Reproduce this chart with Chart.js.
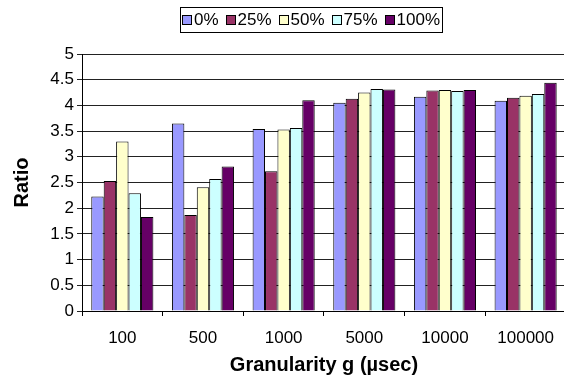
<!DOCTYPE html>
<html>
<head>
<meta charset="utf-8">
<script src="https://cdn.jsdelivr.net/npm/chart.js@4.4.1/dist/chart.umd.min.js"></script>
<style>
  html, body { margin: 0; padding: 0; background: #fff; overflow: hidden; }
  #wrap { width: 566px; height: 387px; }
</style>
</head>
<body>
<div id="wrap"><canvas id="c" width="566" height="387"></canvas></div>
<script>
// Granularity categories (x axis)
const categories = ['100', '500', '1000', '5000', '10000', '100000'];

// Ratio per series
const series0   = [2.23, 3.65, 3.54, 4.05, 4.17, 4.09];
const series25  = [2.53, 1.87, 2.72, 4.13, 4.29, 4.15];
const series50  = [3.30, 2.41, 3.53, 4.25, 4.30, 4.19];
const series75  = [2.29, 2.57, 3.56, 4.32, 4.28, 4.22];
const series100 = [1.83, 2.81, 4.10, 4.31, 4.30, 4.44];

const seriesLabels = ['0%', '25%', '50%', '75%', '100%'];
const seriesColors = ['#9999FF', '#993366', '#FFFFCC', '#CCFFFF', '#660066'];

const FONT = '"Liberation Sans", Arial, sans-serif';

const allSeries = [series0, series25, series50, series75, series100];
const datasets = allSeries.map((vals, i) => ({
  label: seriesLabels[i],
  data: vals,
  backgroundColor: seriesColors[i],
  borderColor: '#000',
  borderWidth: 1,
  borderSkipped: 'start',
  categoryPercentage: 0.77,
  barPercentage: 1.0
}));

// Boxed legend drawn across the top
const boxedLegend = {
  id: 'boxedLegend',
  afterDraw(chart) {
    const ctx = chart.ctx;
    const box = { x: 180, y: 7, w: 262, h: 25 };
    ctx.save();
    ctx.font = '17px ' + FONT;
    const sw = 9, gapMarker = 3, gapItem = 7;
    const items = chart.data.datasets.map(d => ({
      label: d.label, color: d.backgroundColor, tw: ctx.measureText(d.label).width
    }));
    let total = 0;
    items.forEach((it, i) => { total += sw + gapMarker + it.tw + (i < items.length - 1 ? gapItem : 0); });
    let x = box.x + (box.w - total) / 2;
    const cy = box.y + box.h / 2;
    ctx.strokeStyle = '#000';
    ctx.lineWidth = 1;
    ctx.strokeRect(box.x + 0.5, box.y + 0.5, box.w, box.h);
    ctx.textBaseline = 'middle';
    items.forEach(it => {
      const my = Math.round(cy - sw / 2) + 0.5;
      ctx.fillStyle = it.color;
      ctx.fillRect(Math.round(x) + 0.5, my, sw, sw);
      ctx.strokeRect(Math.round(x) + 0.5, my, sw, sw);
      x += sw + gapMarker;
      ctx.fillStyle = '#000';
      ctx.fillText(it.label, x, cy + 1);
      x += it.tw + gapItem;
    });
    ctx.restore();
  }
};

new Chart(document.getElementById('c'), {
  type: 'bar',
  data: { labels: categories, datasets },
  plugins: [boxedLegend],
  options: {
    responsive: false,
    animation: false,
    devicePixelRatio: 1,
    layout: { padding: { top: 54, left: 0, right: 0, bottom: 0 } },
    plugins: {
      legend: { display: false },
      tooltip: { enabled: false }
    },
    scales: {
      x: {
        offset: true,
        grid: {
          offset: true,
          drawOnChartArea: false,
          drawTicks: true,
          tickLength: 5,
          color: '#000'
        },
        border: { color: '#000', width: 1 },
        ticks: {
          color: '#000',
          font: { family: FONT, size: 17 },
          padding: 12,
          maxRotation: 0,
          autoSkip: false
        },
        title: {
          display: true,
          text: 'Granularity g (µsec)',
          color: '#000',
          font: { family: FONT, size: 20, weight: 'bold' },
          padding: { top: 0, bottom: 10 }
        },
        afterFit(scale) { scale.height = 76; }
      },
      y: {
        min: 0,
        max: 5,
        grid: {
          color: '#222',
          lineWidth: 1,
          tickLength: 5,
          drawTicks: true
        },
        border: { color: '#000', width: 1 },
        ticks: {
          stepSize: 0.5,
          color: '#000',
          font: { family: FONT, size: 17 },
          padding: 3,
          callback: v => String(v)
        },
        title: {
          display: true,
          text: 'Ratio',
          color: '#000',
          font: { family: FONT, size: 20, weight: 'bold' },
          padding: { top: 10, bottom: 0 }
        },
        afterFit(scale) { scale.width = 82; }
      }
    }
  }
});
</script>
</body>
</html>
